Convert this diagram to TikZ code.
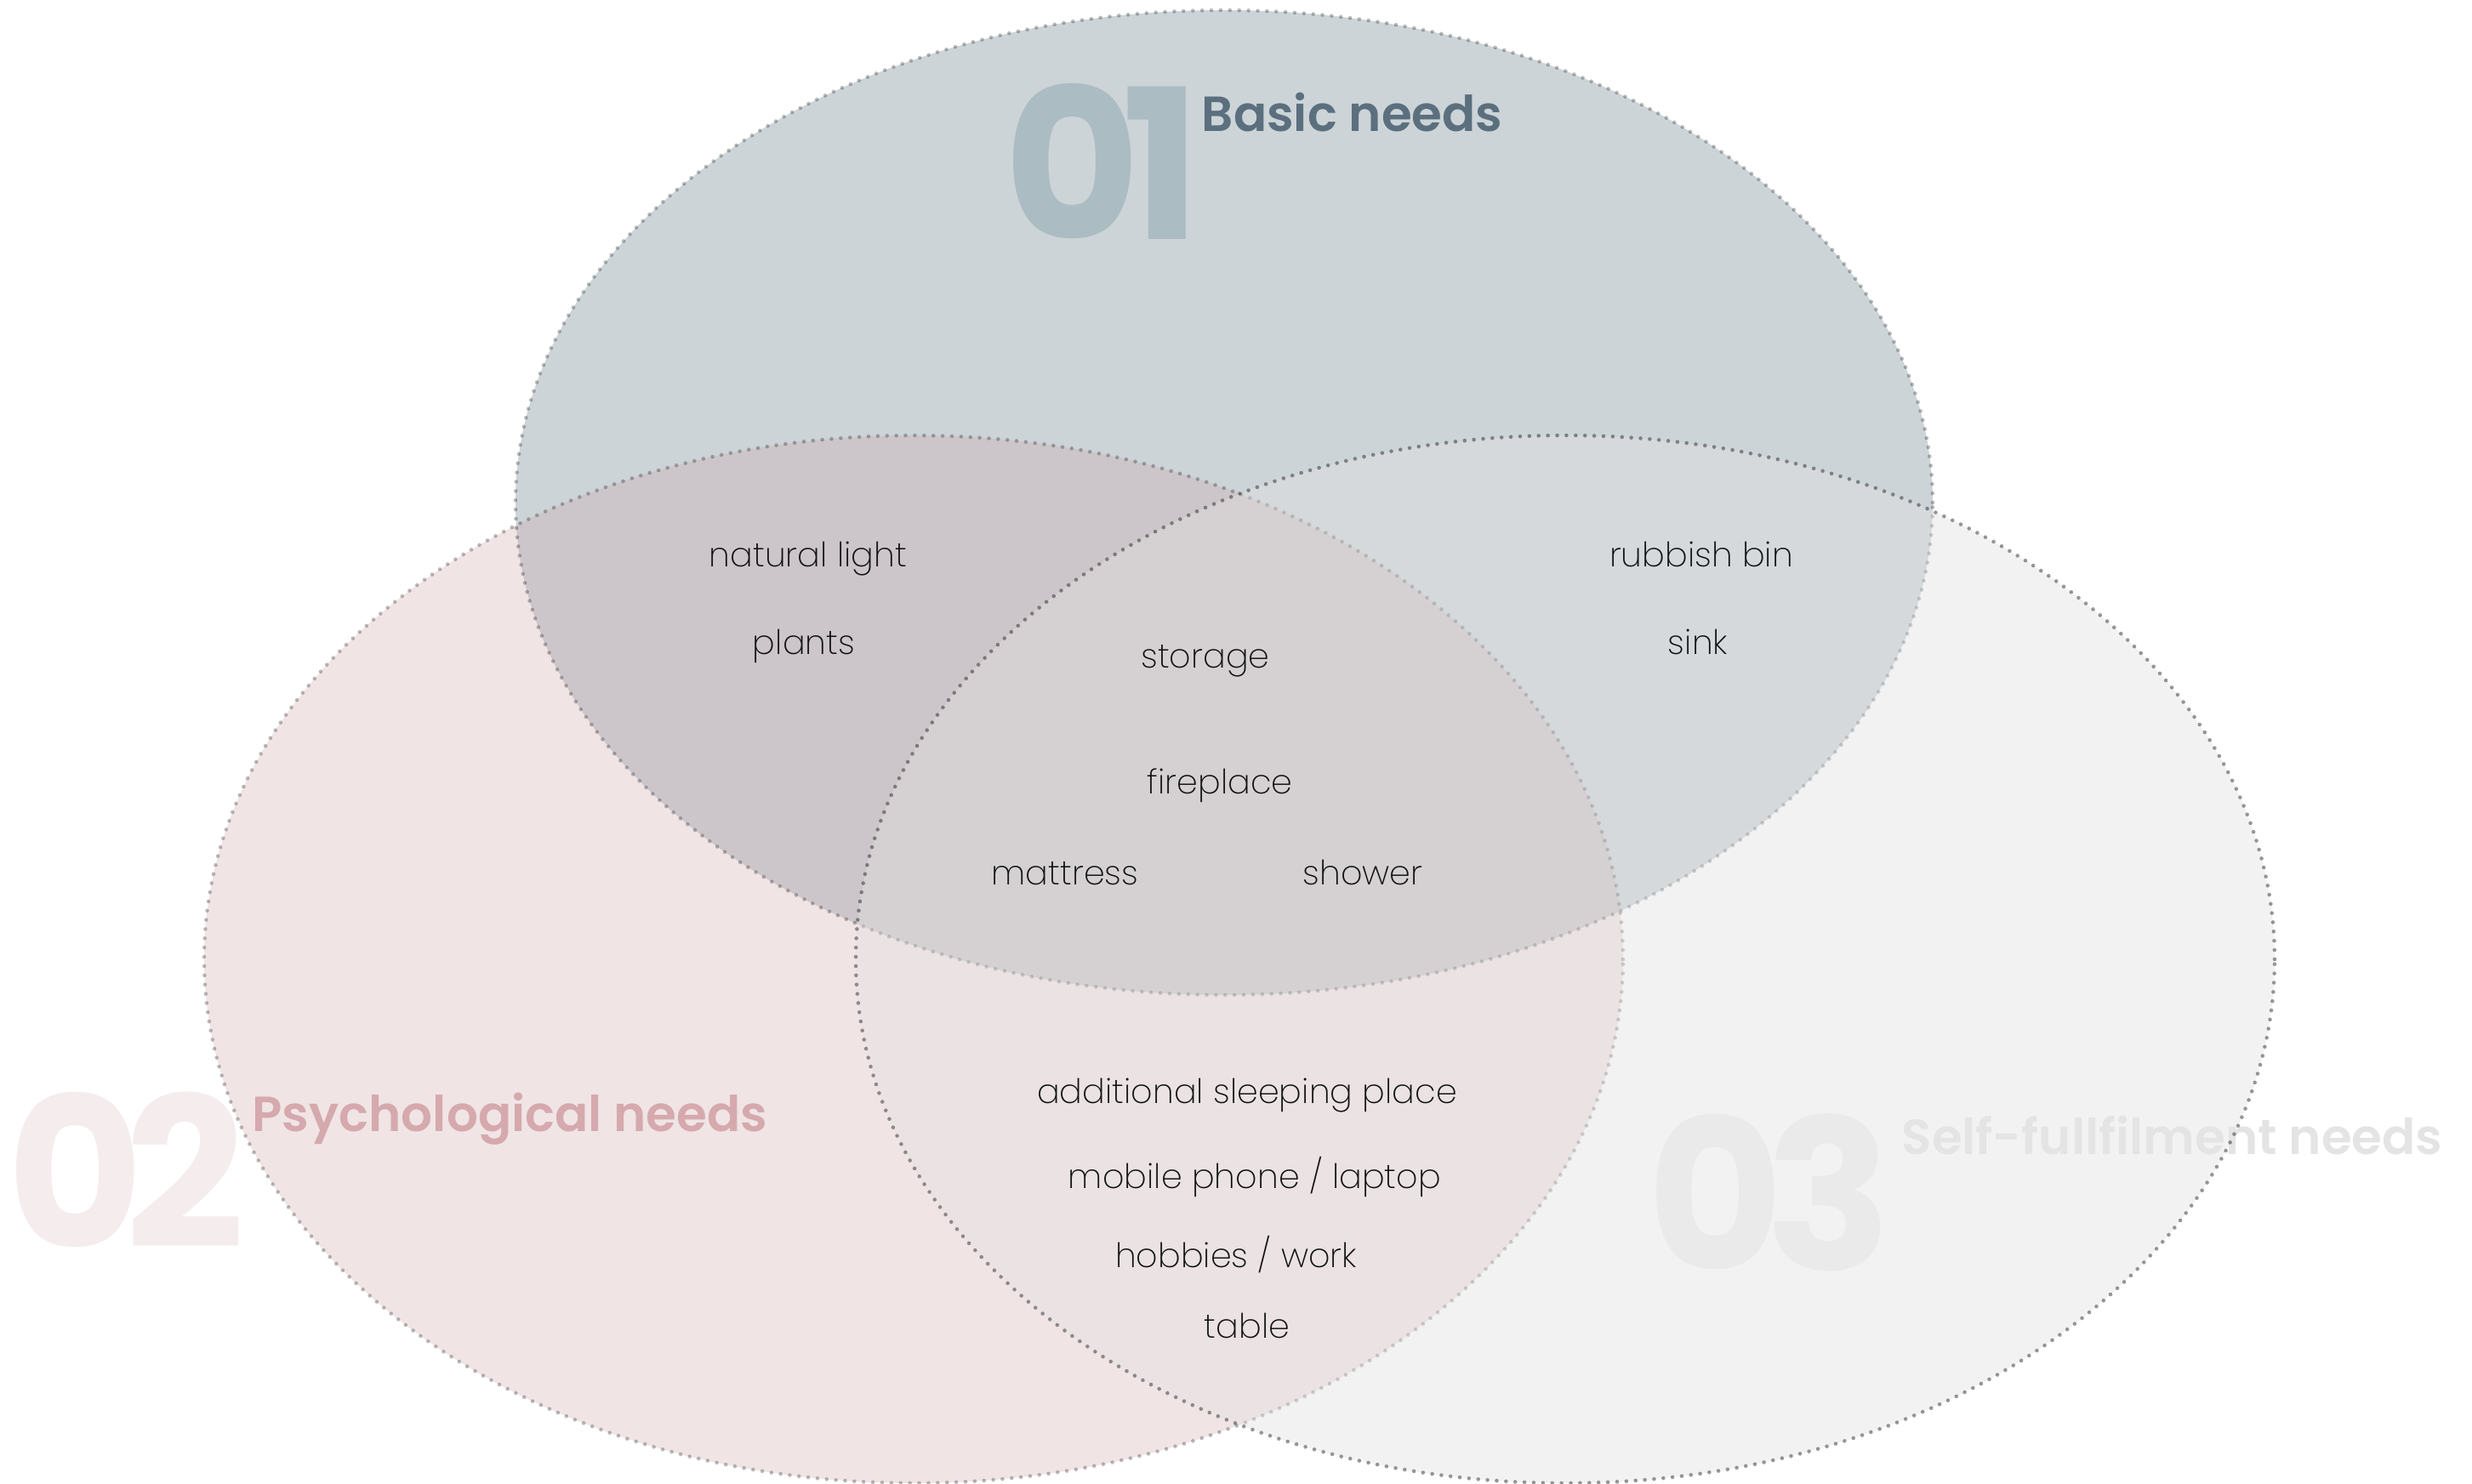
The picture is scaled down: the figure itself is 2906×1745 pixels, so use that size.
\documentclass[tikz,border=0pt]{standalone}
\usepackage{fontspec}
\setmainfont{Poppins ExtraLight}
\newfontfamily\headfont{Poppins SemiBold}
\newfontfamily\numfont{Poppins Bold}
\usetikzlibrary{positioning}
\definecolor{basicfill}{HTML}{CCD4D8}
\definecolor{psychfill}{RGB}{204,163,165}
\definecolor{selffill}{RGB}{225,225,225}
\definecolor{basictext}{HTML}{5B6F7E}
\definecolor{basicnum}{HTML}{ABBCC3}
\definecolor{psychtext}{HTML}{D5A9AD}
\definecolor{psychnum}{HTML}{F4ECED}
\definecolor{selftext}{HTML}{E4E4E4}
\definecolor{selfnum}{HTML}{EAEAEA}
\definecolor{itemtext}{HTML}{111111}
\tikzset{
      dotborder/.style={
        draw=black,
        line width=1.3pt,
        line cap=round,
        dash pattern=on 0pt off 3.1pt
      },
      item/.style={
        anchor=base,
        inner sep=0pt,
        text=itemtext,
        font=\fontsize{11.3}{12}\selectfont
      },
      heading/.style={
        anchor=base west,
        inner sep=0pt,
        font=\headfont\fontsize{16.5}{18}\selectfont
      },
      bignum/.style={
        anchor=base west,
        inner sep=0pt,
        font=\numfont\fontsize{70}{70}\selectfont
      }
    }
\def\basicellipse{(1439,1154) ellipse [x radius=833, y radius=579]}
\def\psychellipse{(1074,617) ellipse [x radius=834, y radius=616]}
\def\selfellipse{(1840,617) ellipse [x radius=834, y radius=616]}

\begin{document}
\begin{tikzpicture}[x=0.1mm,y=0.1mm]
    \useasboundingbox (0,0) rectangle (2906,1745);
    % circles
    \fill[basicfill] \basicellipse;
    \fill[psychfill, fill opacity=0.29] \psychellipse;
    % big numbers and titles
    \node[bignum, text=basicnum] (n1) at (1180,1463) {0\kern-0.09em1};
    \node[heading, text=basictext] (t1) at (1412,1590) {Basic needs};
    \node[bignum, text=psychnum] (n2) at (8,277) {0\kern-0.09em2};
    \node[heading, text=psychtext] (t2) at (296,414) {Psychological needs};
    \draw[dotborder, draw opacity=0.27] \basicellipse;
    \draw[dotborder, draw opacity=0.27] \psychellipse;
    \fill[selffill, fill opacity=0.43] \selfellipse;
    \node[bignum, text=selfnum] (n3) at (1936,251) {0\kern-0.09em3};
    \node[heading, text=selftext] (t3) at (2235,387) {Self-fullfilment needs};
    \draw[dotborder, draw opacity=0.4] \selfellipse;
    % items
    \node[item] (light) at (950,1078) {natural light};
    \node[item] (plants) at (945,975) {plants};
    \node[item] (bin) at (2000,1078) {rubbish bin};
    \node[item] (sink) at (1996,975) {sink};
    \node[item] (storage) at (1417,959) {storage};
    \node[item] (fire) at (1434,811) {fireplace};
    \node[item] (mattress) at (1252,704) {mattress};
    \node[item] (shower) at (1602,704) {shower};
    \node[item] (sleep) at (1466,447) {additional sleeping place};
    \node[item] (phone) at (1475,347) {mobile phone / laptop};
    \node[item] (hobby) at (1453,254) {hobbies / work};
    \node[item] (table) at (1466,171) {table};
    \end{tikzpicture}
\end{document}
